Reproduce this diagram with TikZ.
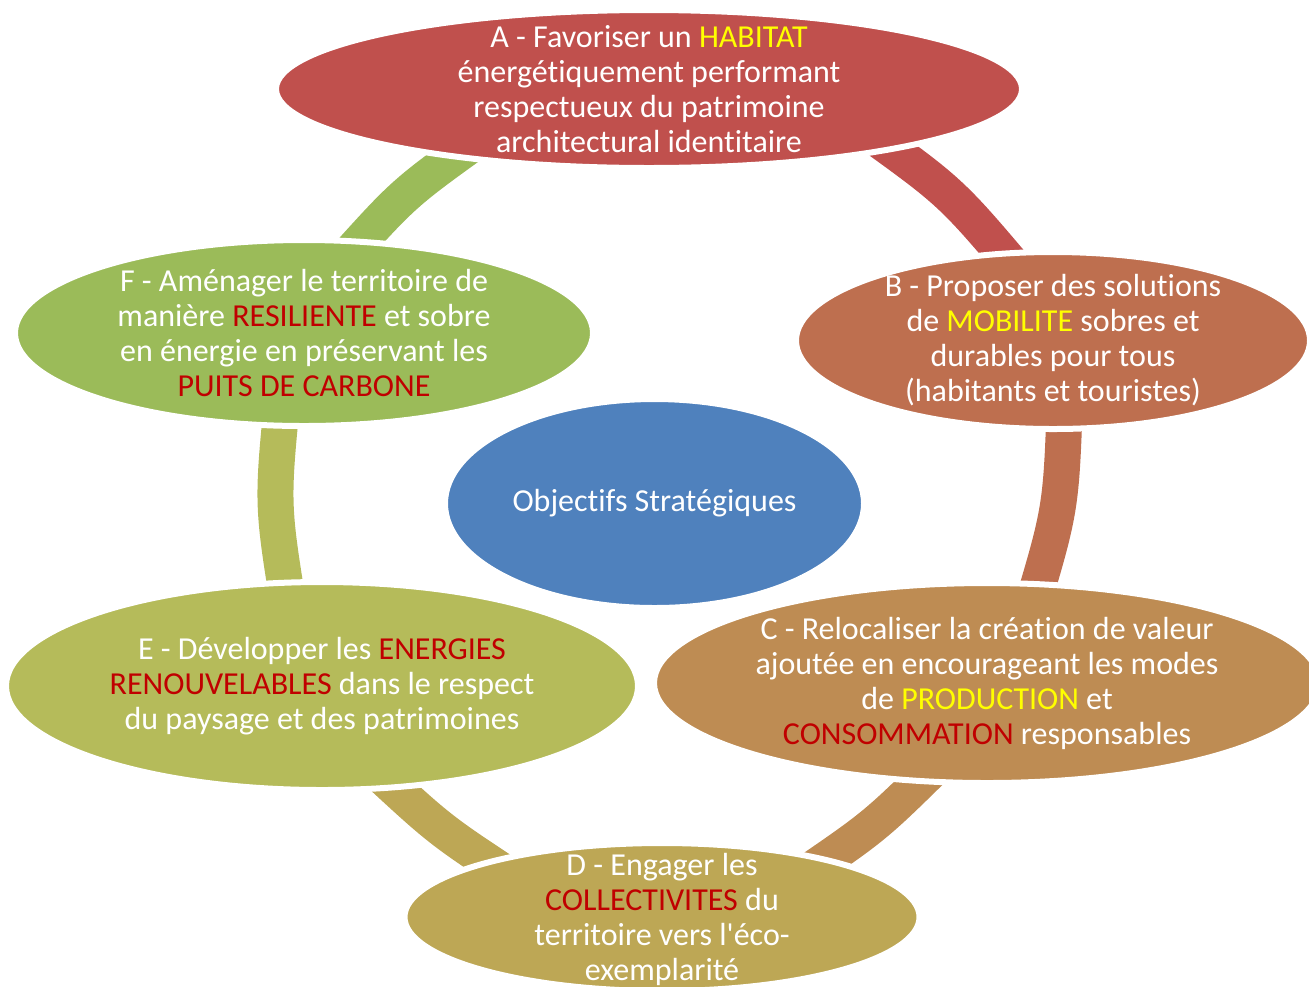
\documentclass[tikz,border=0pt]{standalone}
\usepackage{fontspec}
\setmainfont{Carlito}[Ligatures={NoCommon}]
\usetikzlibrary{shapes.geometric}
\definecolor{cA}{HTML}{C0504D}
\definecolor{cB}{HTML}{BE6F4F}
\definecolor{cC}{HTML}{BE8C53}
\definecolor{cD}{HTML}{BDA755}
\definecolor{cE}{HTML}{B5BB5A}
\definecolor{cF}{HTML}{9BBB59}
\definecolor{cO}{HTML}{4F81BD}
\definecolor{hiY}{HTML}{FFFF00}
\definecolor{hiR}{HTML}{C00000}
\newcommand{\hy}[1]{\textcolor{hiY}{#1}}
\newcommand{\hr}[1]{\textcolor{hiR}{#1}}
\begin{document}
\begin{tikzpicture}[x=0.5pt,y=-0.5pt,
  oval/.style={ellipse, draw=white, line width=3pt, inner sep=0pt},
  band/.style={line width=18pt, line cap=butt},
  lbl/.style={text=white, align=center, font=\fontsize{16}{17.5}\selectfont, inner sep=0pt}]
\clip (0,0) rectangle (1309,986);
% band end points (inside the ellipses)
\coordinate (ab1) at (862,128);  \coordinate (ab2) at (1022,276);
\coordinate (bc1) at (1065,397); \coordinate (bc2) at (1029,616);
\coordinate (cd1) at (940,762);  \coordinate (cd2) at (799,878);
\coordinate (de1) at (516,880);  \coordinate (de2) at (373,768);
\coordinate (ef1) at (290,615);  \coordinate (ef2) at (283,392);
\coordinate (fa1) at (341,263);  \coordinate (fa2) at (482,137);
% bands
\draw[band, cA] (ab1) .. controls (951,192) .. (ab2);
\draw[band, cB] (bc1) .. controls (1061,509) .. (bc2);
\draw[band, cC] (cd1) .. controls (875,826) .. (cd2);
\draw[band, cD] (de1) .. controls (440,830) .. (de2);
\draw[band, cE] (ef1) .. controls (272,504) .. (ef2);
\draw[band, cF] (fa1) .. controls (404,193) .. (fa2);
% ellipses
\node[oval, fill=cA, minimum width=373pt, minimum height=79pt] (A) at (649,89) {};
\node[oval, fill=cB, minimum width=257pt, minimum height=88.5pt] (B) at (1053,340.5) {};
\node[oval, fill=cC, minimum width=333pt, minimum height=100pt] (C) at (987,683) {};
\node[oval, fill=cD, minimum width=257.5pt, minimum height=74pt] (D) at (662,917) {};
\node[oval, fill=cE, minimum width=316pt, minimum height=104pt] (E) at (322,686) {};
\node[oval, fill=cF, minimum width=289pt, minimum height=93pt] (F) at (304,333) {};
\node[oval, fill=cO, minimum width=209.5pt, minimum height=104.5pt] (O) at (654.5,503.5) {};
% texts
\node[lbl] (At) at (A.center) {A - Favoriser un \hy{HABITAT}\\énergétiquement performant\\respectueux du patrimoine\\architectural identitaire};
\node[lbl] (Bt) at (B.center) {B - Proposer des solutions\\de \hy{MOBILITE} sobres et\\durables pour tous\\(habitants et touristes)};
\node[lbl] (Ct) at (C.center) {C - Relocaliser la création de valeur\\ajoutée en encourageant les modes\\de \hy{PRODUCTION} et\\\hr{CONSOMMATION} responsables};
\node[lbl] (Dt) at ([yshift=-1pt]D.center) {D - Engager les\\\hr{COLLECTIVITES} du\\territoire vers l\textquotesingle éco-\\exemplarité};
\node[lbl] (Et) at (E.center) {E - Développer les \hr{ENERGIES}\\\hr{RENOUVELABLES} dans le respect\\du paysage et des patrimoines};
\node[lbl] (Ft) at (F.center) {F - Aménager le territoire de\\manière \hr{RESILIENTE} et sobre\\en énergie en préservant les\\\hr{PUITS DE CARBONE}};
\node[lbl] (Ot) at (O.center) {Objectifs Stratégiques};
\end{tikzpicture}
\end{document}
